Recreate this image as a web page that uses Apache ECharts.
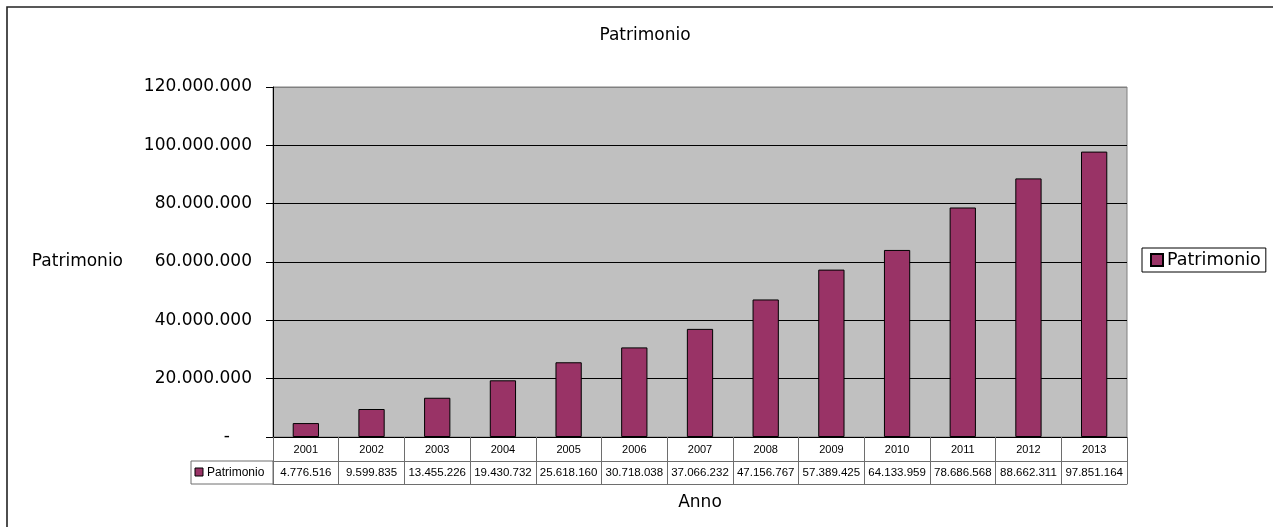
<!DOCTYPE html>
<html>
<head>
<meta charset="utf-8">
<script src="https://cdn.jsdelivr.net/npm/echarts@6/dist/echarts.min.js"></script>
<style>html,body{margin:0;padding:0;background:#fff;}#c{width:1273px;height:527px;}</style>
</head>
<body>
<div id="c"></div>
<script>
const years = ['2001','2002','2003','2004','2005','2006','2007','2008','2009','2010','2011','2012','2013'];
const patrimonio = [4776516, 9599835, 13455226, 19430732, 25618160, 30718038, 37066232, 47156767, 57389425, 64133959, 78686568, 88662311, 97851164];
const seriesName = 'Patrimonio';
const chartTitle = 'Patrimonio';
const yAxisName = 'Patrimonio';
const xAxisName = 'Anno';
const yMin = 0, yMax = 120000000, yStep = 20000000;

function fmt(n){ return String(Math.round(n)).replace(/\B(?=(\d{3})+(?!\d))/g, '.'); }

const chart = echarts.init(document.getElementById('c'));
const verd = 'DejaVu Sans, Verdana, sans-serif';
const arial = 'Liberation Sans, Arial, sans-serif';
const tableLine = '#6e6e6e';
const barColor = '#993366';

chart.setOption({
  animation: false,
  backgroundColor: '#fff',
  title: {
    text: chartTitle, left: 640, top: 22, textAlign: 'center',
    textStyle: {fontFamily: verd, fontSize: 17, fontWeight: 'normal', color: '#000'}
  },
  legend: {
    left: 1142, top: 248, orient: 'vertical',
    padding: [3, 5, 3, 8], itemGap: 0, itemWidth: 12, itemHeight: 12,
    borderColor: '#000', borderWidth: 1, borderRadius: 0,
    icon: 'rect',
    textStyle: {fontFamily: verd, fontSize: 17.5, color: '#000', padding: [0, 0, 0, -1]},
    data: [seriesName]
  },
  grid: {
    left: 273, right: 146, top: 87, bottom: 90,
    show: true, backgroundColor: '#c0c0c0', borderColor: '#808080', borderWidth: 1
  },
  xAxis: [
    {
      type: 'category', data: years, position: 'bottom',
      name: xAxisName, nameLocation: 'middle', nameGap: 57,
      nameTextStyle: {fontFamily: verd, fontSize: 17, color: '#000'},
      axisLine: {lineStyle: {color: '#000', width: 1}},
      axisTick: {show: true, length: 47, lineStyle: {color: tableLine}},
      axisLabel: {fontFamily: arial, fontSize: 11, color: '#000', margin: 7, interval: 0}
    },
    {
      type: 'category', data: years, position: 'bottom', offset: 24,
      axisLine: {lineStyle: {color: tableLine}},
      axisTick: {show: false},
      axisLabel: {fontFamily: arial, fontSize: 11.5, color: '#000', margin: 6, interval: 0,
        formatter: function(v, i){ return fmt(patrimonio[i]); }}
    },
    {
      type: 'category', data: years, position: 'bottom', offset: 47,
      axisLine: {lineStyle: {color: tableLine}},
      axisTick: {show: false}, axisLabel: {show: false}
    }
  ],
  yAxis: {
    type: 'value', min: yMin, max: yMax, interval: yStep,
    name: yAxisName, nameLocation: 'middle', nameRotate: 0, nameGap: 150,
    nameTextStyle: {fontFamily: verd, fontSize: 17, color: '#000'},
    axisLine: {show: true, lineStyle: {color: '#000'}},
    axisTick: {show: true, length: 7, lineStyle: {color: '#000'}},
    splitLine: {show: true, lineStyle: {color: ['#000','#000','#000','#000','#000','#000','#808080'], width: 1}},
    axisLabel: {
      fontFamily: verd, fontSize: 17, color: '#000', margin: 21,
      formatter: function(v){ return v === 0 ? '{d|-}' : fmt(v); },
      rich: {d: {fontFamily: verd, fontSize: 17, color: '#000', padding: [0, 22, 0, 0]}}
    }
  },
  series: [{
    name: seriesName, type: 'bar', data: patrimonio, xAxisIndex: 0,
    barCategoryGap: '60%',
    itemStyle: {color: barColor, borderColor: '#000', borderWidth: 1}
  }],
  graphic: [
    {type: 'rect', silent: true, z: -10, shape: {x: 7, y: 7, width: 1320, height: 560},
     style: {fill: 'none', stroke: '#222', lineWidth: 1.6}},
    {type: 'rect', shape: {x: 191, y: 461, width: 82, height: 23},
     style: {fill: '#fff', stroke: tableLine, lineWidth: 1}},
    {type: 'rect', shape: {x: 195, y: 468, width: 8, height: 8},
     style: {fill: barColor, stroke: '#000', lineWidth: 1}},
    {type: 'text', x: 207, y: 473,
     style: {text: seriesName, font: '12px "Liberation Sans", Arial, sans-serif', fill: '#000', textVerticalAlign: 'middle'}}
  ]
});
</script>
</body>
</html>
